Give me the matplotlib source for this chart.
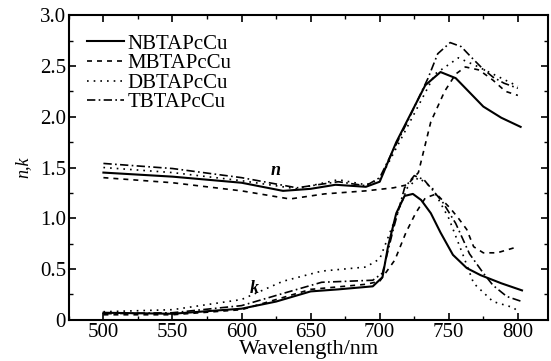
import matplotlib.pyplot as plt
from matplotlib.ticker import MultipleLocator, FixedFormatter, FixedLocator

plt.rcParams['font.family'] = ['Liberation Serif', 'DejaVu Serif']

# refractive index n
n_solid_x = [500, 550, 600, 630, 650, 668, 690, 700, 712, 724, 733, 744, 755, 775, 788, 802]
n_solid_y = [1.45, 1.41, 1.35, 1.27, 1.29, 1.33, 1.31, 1.36, 1.75, 2.07, 2.31, 2.44, 2.38, 2.10, 1.99, 1.90]

n_mb_x = [500, 550, 600, 635, 660, 690, 710, 720, 728, 737, 747, 755, 762, 772, 782, 791, 800]
n_mb_y = [1.40, 1.35, 1.27, 1.19, 1.24, 1.27, 1.30, 1.33, 1.45, 1.95, 2.25, 2.42, 2.49, 2.46, 2.36, 2.25, 2.21]

n_db_x = [500, 550, 600, 640, 670, 690, 700, 720, 740, 757, 770, 785, 800]
n_db_y = [1.50, 1.45, 1.37, 1.29, 1.38, 1.33, 1.38, 1.90, 2.42, 2.58, 2.50, 2.40, 2.30]

n_tb_x = [500, 550, 600, 640, 670, 690, 700, 720, 735, 742, 751, 759, 766, 774, 782, 790, 800]
n_tb_y = [1.54, 1.49, 1.40, 1.30, 1.36, 1.32, 1.40, 1.95, 2.38, 2.62, 2.73, 2.69, 2.59, 2.48, 2.39, 2.33, 2.28]

# extinction coefficient k
k_solid_x = [500, 550, 600, 625, 650, 670, 695, 702, 706, 712, 718, 724, 730, 737, 744, 753, 763, 773, 788, 803]
k_solid_y = [0.07, 0.06, 0.11, 0.18, 0.28, 0.30, 0.33, 0.42, 0.72, 1.05, 1.22, 1.24, 1.18, 1.05, 0.86, 0.64, 0.51, 0.44, 0.36, 0.29]

k_mb_x = [500, 550, 600, 650, 690, 700, 711, 719, 726, 733, 741, 751, 757, 763, 768, 775, 785, 800]
k_mb_y = [0.05, 0.05, 0.10, 0.30, 0.35, 0.38, 0.59, 0.86, 1.05, 1.20, 1.24, 1.10, 1.00, 0.89, 0.72, 0.66, 0.66, 0.72]

k_db_x = [500, 550, 600, 630, 658, 690, 700, 710, 720, 728, 738, 750, 760, 768, 782, 797, 800]
k_db_y = [0.08, 0.10, 0.20, 0.38, 0.48, 0.52, 0.60, 0.95, 1.30, 1.40, 1.30, 1.00, 0.65, 0.36, 0.18, 0.12, 0.08]

k_tb_x = [500, 550, 600, 630, 658, 695, 702, 710, 718, 725, 732, 740, 746, 755, 765, 775, 782, 792, 803]
k_tb_y = [0.06, 0.07, 0.14, 0.26, 0.37, 0.39, 0.46, 0.90, 1.30, 1.42, 1.38, 1.25, 1.15, 0.95, 0.65, 0.46, 0.34, 0.23, 0.18]

names = ['NBTAPcCu', 'MBTAPcCu', 'DBTAPcCu', 'TBTAPcCu']
styles = ['-', (0, (3, 3)), (0, (1, 3)), (0, (5, 2, 1, 2))]

fig = plt.figure(figsize=(5.51, 3.61), dpi=100)
ax = fig.add_axes([0.125, 0.114, 0.87, 0.844])

n_data = [(n_solid_x, n_solid_y), (n_mb_x, n_mb_y), (n_db_x, n_db_y), (n_tb_x, n_tb_y)]
k_data = [(k_solid_x, k_solid_y), (k_mb_x, k_mb_y), (k_db_x, k_db_y), (k_tb_x, k_tb_y)]
for (x, y), ls, name in zip(n_data, styles, names):
    ax.plot(x, y, color='black', linestyle=ls, linewidth=1.5 if ls == '-' else 1.2, label=name)
for (x, y), ls in zip(k_data, styles):
    ax.plot(x, y, color='black', linestyle=ls, linewidth=1.5 if ls == '-' else 1.2)

ax.text(625, 1.47, 'n', fontsize=13, style='italic', fontweight='bold', ha='center', va='center')
ax.text(609, 0.31, 'k', fontsize=13, style='italic', fontweight='bold', ha='center', va='center')

ax.set_xlim(475, 822)
ax.set_ylim(0, 3.0)
ax.xaxis.set_major_locator(MultipleLocator(50))
ax.xaxis.set_minor_locator(MultipleLocator(25))
ax.yaxis.set_major_locator(FixedLocator([0, 0.5, 1.0, 1.5, 2.0, 2.5, 3.0]))
ax.yaxis.set_major_formatter(FixedFormatter(['0', '0.5', '1.0', '1.5', '2.0', '2.5', '3.0']))
ax.yaxis.set_minor_locator(MultipleLocator(0.25))
ax.tick_params(which='both', direction='in', top=True, right=True, labelsize=15, pad=2)
ax.tick_params(which='major', length=5, width=1.2)
ax.tick_params(which='minor', length=3, width=1)
for s in ax.spines.values():
    s.set_linewidth(1.5)

ax.set_xlabel('Wavelength/nm', fontsize=16, labelpad=-1)
ax.set_ylabel('n,k', fontsize=13, style='italic', labelpad=6)

ax.legend(loc='upper left', bbox_to_anchor=(0.02, 0.965), borderaxespad=0,
          frameon=False, fontsize=15, handlelength=1.8, labelspacing=0.0,
          handletextpad=0.15)

fig.savefig('out.png', dpi=100)
